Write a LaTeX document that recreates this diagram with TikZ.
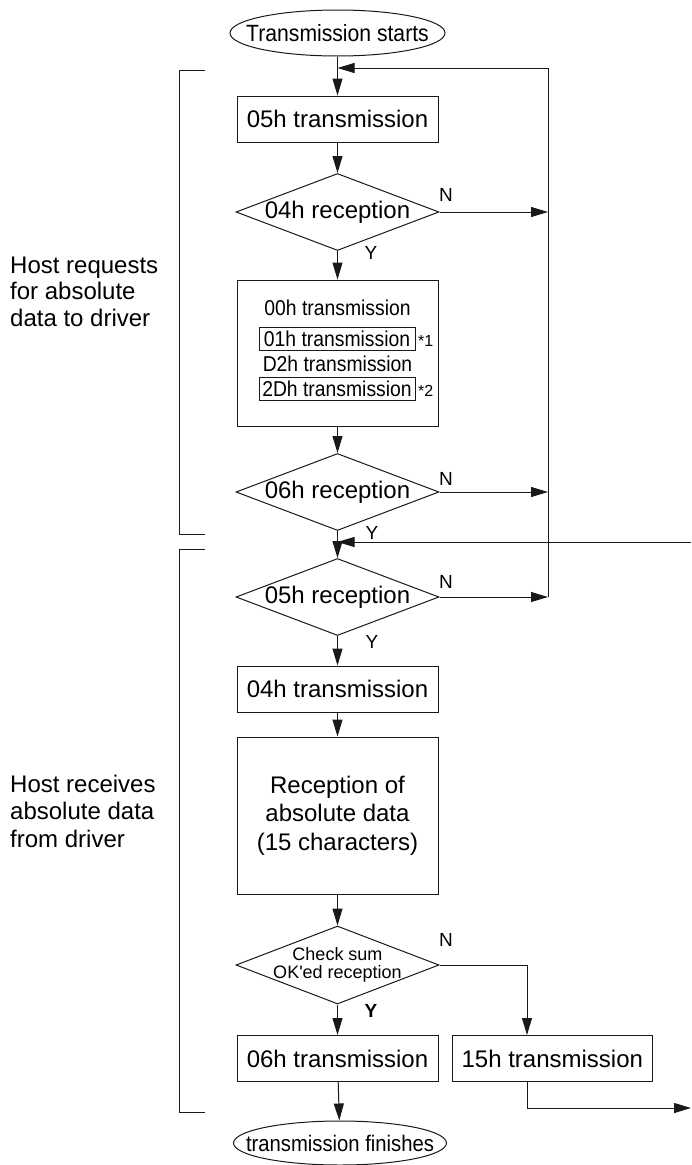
\documentclass[tikz,border=0pt]{standalone}
\usepackage{fontspec}
\setmainfont{Liberation Sans}
\newfontfamily\narrowfont{Liberation Sans}[FakeStretch=0.9]
\usetikzlibrary{arrows.meta,shapes.geometric}
\newcommand{\nowidth}[1]{\makebox[0pt]{#1}}

\tikzset{
  flow/.style={line width=1pt, draw=black!90},
  arr/.style={flow, -{Triangle[length=17pt,width=10pt]}},
  procbox/.style={flow, rectangle, minimum width=201pt, minimum height=46pt, inner sep=0pt},
  decision/.style={flow, diamond, minimum width=203pt, minimum height=77pt, inner sep=0pt},
  terminal/.style={flow, ellipse, minimum width=215pt, minimum height=46pt, inner sep=0pt, font=\narrowfont\fontsize{23.5}{28}\selectfont},
  subline/.style={font=\narrowfont\fontsize{21.5}{24}\selectfont, inner sep=0pt},
  subbox/.style={subline, flow, minimum width=156pt, minimum height=23pt},
  yn/.style={font=\fontsize{19}{22}\selectfont, inner sep=0pt},
  note/.style={font=\fontsize{16}{18}\selectfont, inner sep=0pt},
  side/.style={anchor=west, align=left, inner sep=0pt},
}

\begin{document}
\begin{tikzpicture}[x=1pt, y=-1pt, every node/.style={font=\fontsize{24}{28}\selectfont}]
	\useasboundingbox (0,0) rectangle (691,1165);
	% main column
	\node[terminal] (start) at (337.5,33) {\nowidth{Transmission starts}};
	\node[procbox] (tx05) at (337.5,119) {05h transmission};
	\node[decision] (rx04) at (337.5,212) {\nowidth{04h reception}};
	\node[procbox, minimum height=146pt] (req) at (337.5,353) {};
	\node[subline] (tx00) at (337.5,308) {00h transmission};
	\node[subbox] (tx01) at (337,339) {01h transmission};
	\node[note, anchor=west] (ast1) at (418,341) {*1};
	\node[subline] (txD2) at (337.5,363.5) {D2h transmission};
	\node[subbox] (tx2D) at (337,389) {2Dh transmission};
	\node[note, anchor=west] (ast2) at (418,391) {*2};
	\node[decision] (rx06) at (337.5,492) {\nowidth{06h reception}};
	\node[decision] (rx05) at (337.5,597) {\nowidth{05h reception}};
	\node[procbox] (tx04) at (337.5,689) {04h transmission};
	\node[procbox, minimum height=157pt, align=center, font=\fontsize{24}{28.5}\selectfont] (rxabs) at (337.5,815.5) {Reception of\\absolute data\\(15 characters)};
	\node[decision, minimum height=78pt, font=\fontsize{18}{16}\selectfont] (chk) at (337.5,965) {\nowidth{\begin{tabular}{@{}c@{}}Check sum\\OK\textquotesingle ed reception\end{tabular}}};
	\node[procbox] (tx06) at (337.5,1058.5) {06h transmission};
	\node[procbox, minimum width=200pt] (tx15) at (552.3,1058.5) {15h transmission};
	\node[terminal, minimum width=213pt, minimum height=44pt, font=\narrowfont\fontsize{22.5}{27}\selectfont] (finish) at (340,1143) {\nowidth{transmission finishes}};

	% branch labels
	\node[yn] (n04) at (446,195) {N};
	\node[yn] (y04) at (371,253) {Y};
	\node[yn] (n06) at (446,479) {N};
	\node[yn] (y06) at (372,533) {Y};
	\node[yn] (n05) at (446,582) {N};
	\node[yn] (y05) at (372,642) {Y};
	\node[yn] (nchk) at (446,940) {N};
	\node[yn, font=\fontsize{19}{22}\selectfont\bfseries] (ychk) at (371,1011) {Y};

	% side notes
	\node[side, font=\fontsize{24}{26.7}\selectfont] (hostreq) at (10,291.7) {Host requests\\for absolute\\data to driver};
	\node[side, font=\fontsize{24}{27.5}\selectfont] (hostrcv) at (10,811) {Host receives\\absolute data\\from driver};
	\draw[flow] (205,70) -- (179,70) -- (179,534) -- (205,534);
	\draw[flow] (205,549) -- (179,549) -- (179,1112) -- (205,1112);

	% junction points
	\coordinate (jTop) at (337.5,68);
	\coordinate (rTop) at (548,68);
	\coordinate (rA) at (548,212);
	\coordinate (rB) at (548,492);
	\coordinate (rC) at (548,597);
	\coordinate (jMid) at (337.5,542);
	\coordinate (edgeIn) at (691,542);
	\coordinate (nCol) at (527,965);
	\coordinate (edgeOut) at (691,1108);

	% connectors
	\draw[arr] (start) -- (tx05);
	\draw[arr] (rTop) -- (jTop);
	\draw[arr] (tx05) -- (rx04);
	\draw[arr] (rx04) -- (req);
	\draw[arr] (req) -- (rx06);
	\draw[arr] (rx06) -- (rx05);
	\draw[arr] (edgeIn) -- (jMid);
	\draw[arr] (rx04.east) -- (rA);
	\draw[arr] (rx06.east) -- (rB);
	\draw[arr] (rx05.east) -- (rC);
	\draw[flow] (rC) -- (rTop);
	\draw[arr] (rx05) -- (tx04);
	\draw[arr] (tx04) -- (rxabs);
	\draw[arr] (rxabs) -- (chk);
	\draw[arr] (chk) -- (tx06);
	\draw[arr] (chk.east) -- (nCol) -- (tx15.north -| nCol);
	\draw[arr] (tx15.south -| nCol) |- (edgeOut);
	\draw[arr] (tx06) -- (finish);
\end{tikzpicture}
\end{document}
